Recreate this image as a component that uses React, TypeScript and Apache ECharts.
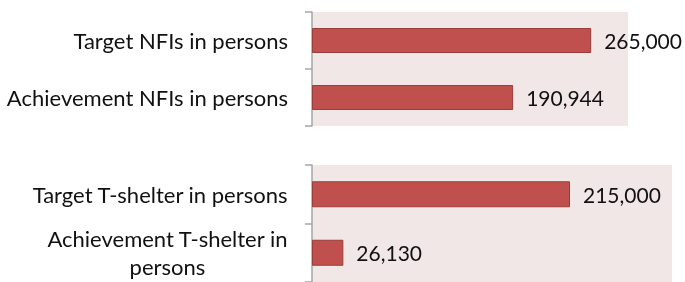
import React, { useEffect, useRef } from "react";
import * as echarts from "echarts";

const nfiCategories = ["Target NFIs in persons", "Achievement NFIs in persons"];
const nfiValues = [265000, 190944];
const shelterCategories = ["Target T-shelter in persons", "Achievement T-shelter in\npersons"];
const shelterValues = [215000, 26130];
const axisMax = 300000;

const FONT = "Lato";

export default function App() {
  const ref = useRef<HTMLDivElement>(null);
  useEffect(() => {
    if (!ref.current) return;
    const chart = echarts.init(ref.current, null, { renderer: "svg" });
    const catLabel = {
      fontFamily: FONT,
      fontSize: 22,
      color: "#111",
      margin: 24,
      lineHeight: 28,
      formatter: (v: string) =>
        v
          .split("\n")
          .map((s) => "{c|" + s + "}")
          .join("\n"),
      rich: { c: { align: "center", fontFamily: FONT, fontSize: 22, color: "#111", lineHeight: 28 } },
    };
    const axisLine = { show: true, lineStyle: { color: "#A6A6A6", width: 1.5 } };
    const axisTick = { show: true, length: 7, lineStyle: { color: "#A6A6A6", width: 1.5 } };
    const valueLabel = {
      show: true,
      position: "right",
      distance: 13,
      fontFamily: FONT,
      fontSize: 21,
      color: "#111",
      formatter: (p: any) => Number(p.value).toLocaleString("en-US"),
    };
    const barStyle = { color: "#C0504D", borderColor: "#9B3D3A", borderWidth: 1 };
    chart.setOption({
      animation: false,
      grid: [
        { left: 312, top: 12, width: 316, height: 114, show: true, backgroundColor: "#F2E7E7", borderWidth: 0 },
        { left: 312, top: 165, width: 360, height: 122, show: true, backgroundColor: "#F2E7E7", borderWidth: 0 },
      ],
      xAxis: [
        { type: "value", gridIndex: 0, min: 0, max: axisMax, show: false },
        { type: "value", gridIndex: 1, min: 0, max: axisMax, show: false },
      ],
      yAxis: [
        { type: "category", gridIndex: 0, data: nfiCategories, inverse: true, axisLine, axisTick, axisLabel: catLabel },
        { type: "category", gridIndex: 1, data: shelterCategories, inverse: true, axisLine, axisTick, axisLabel: catLabel },
      ],
      series: [
        { type: "bar", xAxisIndex: 0, yAxisIndex: 0, data: nfiValues, barWidth: 25, itemStyle: barStyle, label: valueLabel },
        { type: "bar", xAxisIndex: 1, yAxisIndex: 1, data: shelterValues, barWidth: 26, itemStyle: barStyle, label: valueLabel },
      ],
    });
    return () => chart.dispose();
  }, []);
  return <div ref={ref} style={{ position: "fixed", left: 0, top: 0, width: 685, height: 282 }} />;
}
